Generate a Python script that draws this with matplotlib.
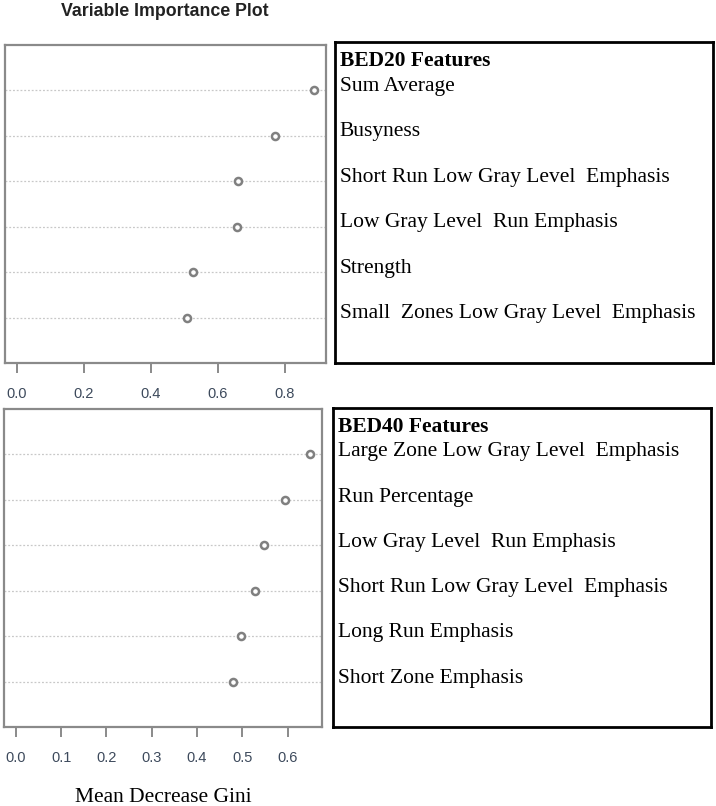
import matplotlib
matplotlib.use("Agg")
import matplotlib.pyplot as plt

title = "Variable Importance Plot"
xlabel = "Mean Decrease Gini"

bed20_header = "BED20 Features"
bed20_features = ["Sum Average", "Busyness", "Short Run Low Gray Level  Emphasis",
                  "Low Gray Level  Run Emphasis", "Strength",
                  "Small  Zones Low Gray Level  Emphasis"]
bed20_values = [0.887, 0.769, 0.659, 0.656, 0.525, 0.509]
bed20_ticks = [0.0, 0.2, 0.4, 0.6, 0.8]

bed40_header = "BED40 Features"
bed40_features = ["Large Zone Low Gray Level  Emphasis", "Run Percentage",
                  "Low Gray Level  Run Emphasis", "Short Run Low Gray Level  Emphasis",
                  "Long Run Emphasis", "Short Zone Emphasis"]
bed40_values = [0.650, 0.594, 0.548, 0.529, 0.498, 0.480]
bed40_ticks = [0.0, 0.1, 0.2, 0.3, 0.4, 0.5, 0.6]

W, H = 716, 806
fig = plt.figure(figsize=(W / 100, H / 100), dpi=100)


def px_axes(x0, y0, x1, y1):
    return fig.add_axes([x0 / W, 1 - y1 / H, (x1 - x0) / W, (y1 - y0) / H])


def dot_panel(rect, values, ticks):
    ax = px_axes(*rect)
    n = len(values)
    ys = list(range(n, 0, -1))
    vmax = max(values)
    xlim = (-0.04 * vmax, vmax * 1.04)
    ax.set_xlim(*xlim)
    ax.set_ylim(0, n + 1)
    for y in ys:
        ax.plot(xlim, [y, y], linestyle=(0, (1.5, 1.5)), color="#c8c8c8", lw=0.9, zorder=1)
    ax.scatter(values, ys, s=26, facecolor="white", edgecolor="#808080", linewidths=1.8, zorder=3)
    ax.set_yticks([])
    ax.set_xticks(ticks)
    ax.set_xticklabels([f"{t:.1f}" for t in ticks], fontsize=10.5, color="#3d4a5c",
                       family="Liberation Sans")
    ax.tick_params(axis="x", length=7, width=1.2, color="#777777", pad=10)
    for s in ax.spines.values():
        s.set_color("#8a8a8a")
        s.set_linewidth(1.6)
    return ax


def label_box(rect, header, features):
    ax = px_axes(*rect)
    ax.set_xlim(0, 1)
    ax.set_ylim(0, 7.05)
    ax.set_xticks([])
    ax.set_yticks([])
    for s in ax.spines.values():
        s.set_color("black")
        s.set_linewidth(2.0)
    n = len(features)
    ax.text(0.012, 6.64, header, fontsize=15.5, fontweight="bold", family="Liberation Serif",
            va="center", ha="left")
    for i, f in enumerate(features):
        ax.text(0.012, n - i + 0.08, f, fontsize=15.5, family="Liberation Serif",
                va="center", ha="left")
    return ax


dot_panel((5, 45, 326, 363), bed20_values, bed20_ticks)
label_box((335, 42, 713, 363), bed20_header, bed20_features)
dot_panel((4, 409, 322, 727), bed40_values, bed40_ticks)
label_box((333, 408, 711, 727), bed40_header, bed40_features)

fig.text(165 / W, 1 - 12 / H, title, fontsize=12.8, fontweight="bold", family="Liberation Sans",
         ha="center", va="center", color="#222222")
fig.text(163 / W, 1 - 797 / H, xlabel, fontsize=15.5, family="Liberation Serif",
         ha="center", va="center")

fig.savefig("out.png", dpi=100)
